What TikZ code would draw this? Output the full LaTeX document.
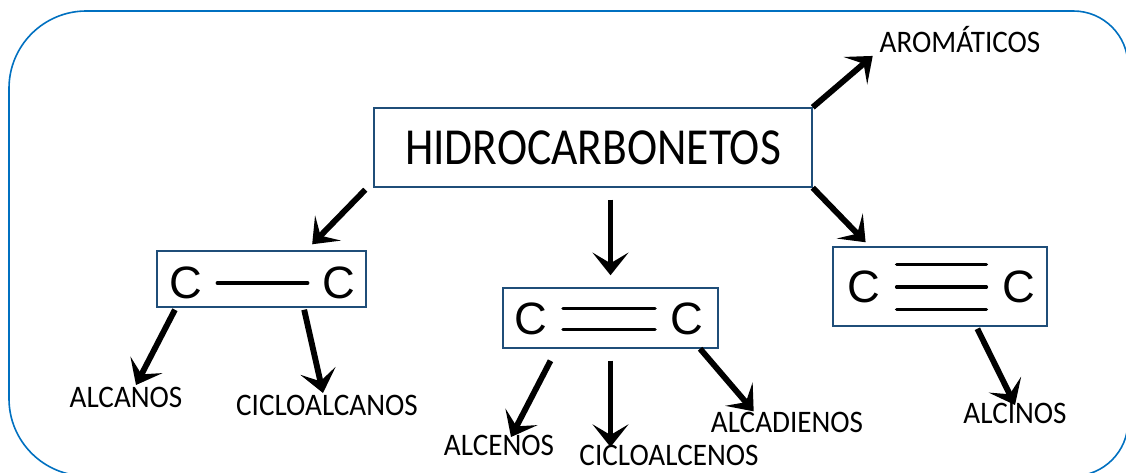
\documentclass[tikz,border=0pt]{standalone}
\usepackage{fontspec}
\setmainfont{Carlito}[FakeStretch=0.93]
\newfontfamily\titlefont{Carlito}[FakeStretch=0.875]
\newfontfamily\atomfont{Liberation Sans}
\usepackage{tikz}
\usetikzlibrary{positioning,calc,arrows.meta}
\definecolor{framecol}{HTML}{0070C0}
\definecolor{boxcol}{HTML}{1F4E79}
\tikzset{block/.style={draw=boxcol, line width=1.1pt, inner sep=0pt},
% block is the frame of the title and of the three bond boxes
leaf/.style={anchor=base, inner sep=2pt, text height=0.63em, text depth=0pt, font=\fontsize{23.5}{24}\selectfont},
atom/.style={font=\atomfont\fontsize{34}{34}\selectfont, inner sep=0pt},
bond/.style={line width=2.6pt, line cap=round},
line/.style={-{Stealth[length=17pt,width=27pt,inset=8pt]}, line width=4.4pt}   % the thick black arrows
}

\begin{document}
\begin{tikzpicture}[x=0.75pt,y=-0.75pt]
    \useasboundingbox (0,0) rectangle (1126,473);
    \clip (0,0) rectangle (1126,473);
    \draw[framecol, line width=1.2pt] (9,250) [rounded corners=58pt] -- (9,11) -- (560,11)
        [rounded corners=41pt] -- (1128,11) -- (1128,476) -- (560,476)
        [rounded corners=58pt] -- (9,476) -- cycle;
    \node[block, minimum width=328.5pt, minimum height=59.25pt, font=\titlefont\fontsize{39}{39}\selectfont] (main) at (593,147.5) {HIDROCARBONETOS};
    \node[block, minimum width=156.75pt, minimum height=42pt] (single) at (261.5,279) {};
    \node[block, minimum width=161.25pt, minimum height=45pt] (double) at (610.5,318) {};
    \node[block, minimum width=160.5pt, minimum height=59.25pt] (triple) at (940,286.5) {};
    % carbon atoms and bonds
    \node[atom] (s1) at (186,283) {C};
    \node[atom] (s2) at (339,283) {C};
    \draw[bond, shorten <=11pt, shorten >=11pt] (s1) -- (s2);
    \node[atom] (d1) at (531,319) {C};
    \node[atom] (d2) at (687,319) {C};
    \foreach \dy in {-7.9,7.9}
        \draw[bond, shorten <=11.5pt, shorten >=11.5pt] ([yshift=\dy pt]d1.east) -- ([yshift=\dy pt]d2.west);
    \node[atom] (t1) at (864,287) {C};
    \node[atom] (t2) at (1019,287) {C};
    \foreach \dy in {-16.9,0,16.9}
        \draw[bond, shorten <=12pt, shorten >=12pt] ([yshift=\dy pt]t1.east) -- ([yshift=\dy pt]t2.west);
    % names of the families
    \node[leaf] (arom) at (960,53) {AROMÁTICOS};
    \node[leaf] (alcanos) at (126,407) {ALCANOS};
    \node[leaf] (cicloalcanos) at (327,415) {CICLOALCANOS};
    \node[leaf] (alcenos) at (499,455) {ALCENOS};
    \node[leaf] (cicloalcenos) at (669,465) {CICLOALCENOS};
    \node[leaf] (alcadienos) at (787,432) {ALCADIENOS};
    \node[leaf] (alcinos) at (1015,423) {ALCINOS};
    \draw[line] (main.north east) -- ([xshift=-3pt]arom.south west);
    \draw[line] ([xshift=-6pt,yshift=-1.5pt]main.south west) -- ([xshift=38pt,yshift=4.5pt]single.north);
    \draw[line, shorten <=9pt, shorten >=9pt] (main.south -| double.north) -- (double.north);
    \draw[line] (main.south east) -- ([xshift=25pt,yshift=3pt]triple.north west);
    \draw[line] ([xshift=14pt,yshift=-1.5pt]single.south west) -- ([xshift=7.5pt,yshift=8pt]alcanos.north);
    \draw[line] ([xshift=32pt,yshift=-1.5pt]single.south) -- ([xshift=-3pt,yshift=8pt]cicloalcanos.north);
    \draw[line] ([xshift=-45pt,yshift=-9pt]double.south) -- ([xshift=9pt,yshift=5pt]alcenos.north);
    \draw[line, shorten <=9pt, shorten >=5pt] (double.south) -- (double.south |- cicloalcenos.north);
    \draw[line] ([xshift=-14pt]double.south east) -- ([xshift=-25pt,yshift=7pt]alcadienos.north);
    \draw[line] ([xshift=28pt,yshift=-1.5pt]triple.south) -- ([yshift=5pt]alcinos.north);
\end{tikzpicture}
\end{document}
